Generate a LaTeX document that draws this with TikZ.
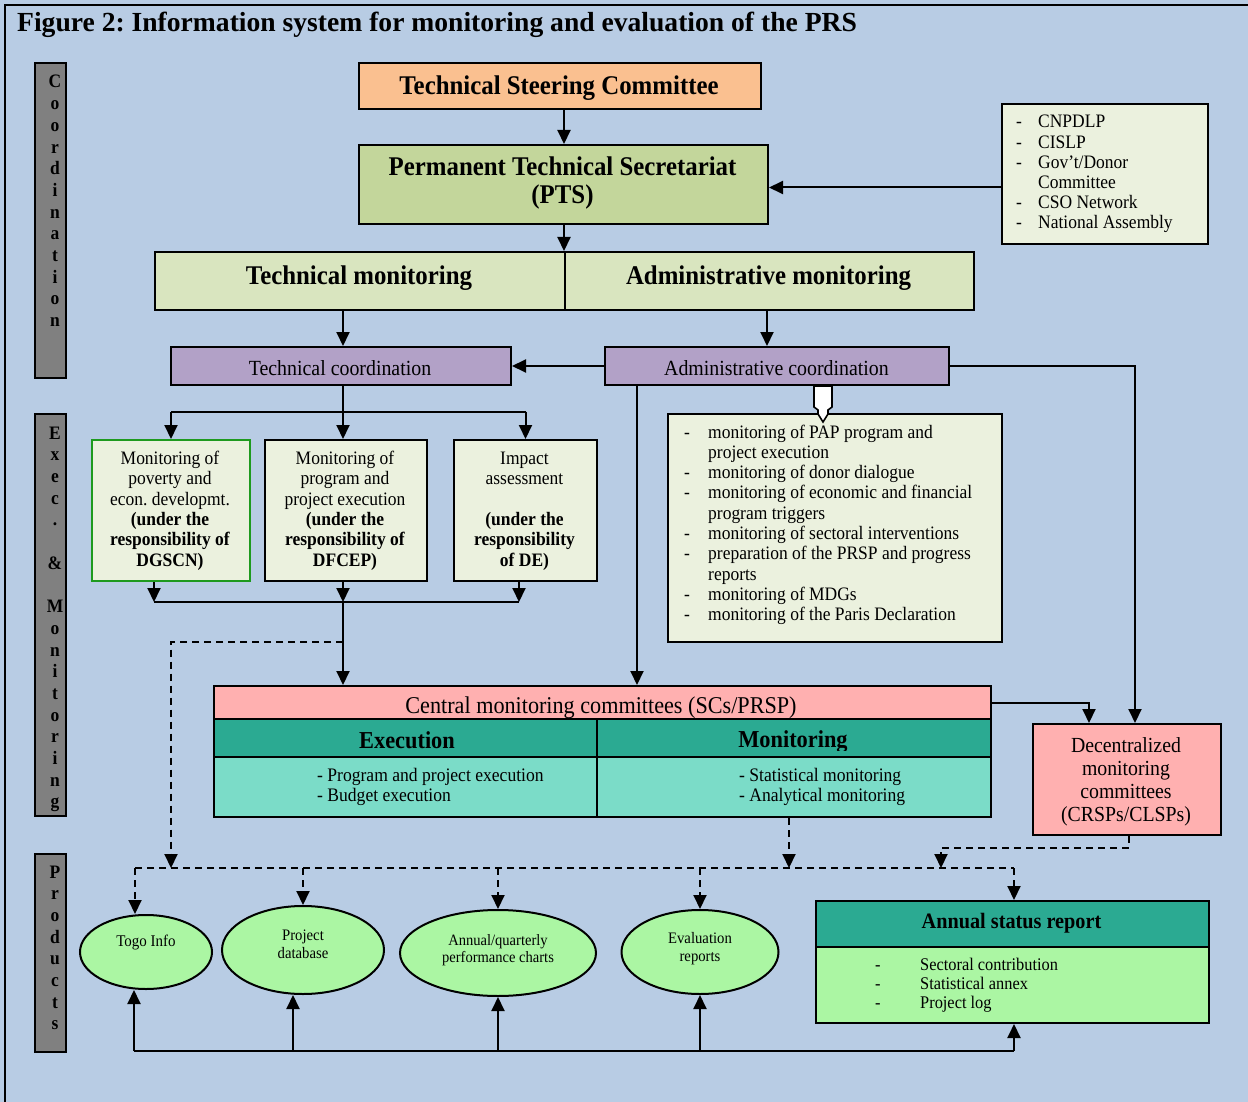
\documentclass[tikz,border=0pt]{standalone}
\usepackage{fontspec}
\setmainfont{Liberation Serif}
\newfontfamily\dfam[FakeStretch=0.92]{Liberation Serif}
\usetikzlibrary{arrows.meta,shapes.geometric,calc}
\definecolor{bgblue}{HTML}{B8CCE4}
\definecolor{orng}{HTML}{FAC090}
\definecolor{ptsgreen}{HTML}{C3D69B}
\definecolor{palegreen}{HTML}{D9E5BF}
\definecolor{listbg}{HTML}{EBF1DE}
\definecolor{purp}{HTML}{B2A1C7}
\definecolor{pinkc}{HTML}{FFB0B0}
\definecolor{tealh}{HTML}{2BAA92}
\definecolor{tealc}{HTML}{7BDCC8}
\definecolor{lgreen}{HTML}{ABF6A3}
\definecolor{sidegray}{HTML}{808080}
\definecolor{boxgreen}{HTML}{1E9A1E}
\newcommand\fnt[2]{\dfam\fontsize{#1}{#2}\selectfont}
\newcommand\dsh[1]{\makebox[#1][l]{-}}
\frenchspacing
\begin{document}
\begin{tikzpicture}[x=1pt,y=-1pt,
  bx/.style={draw=black,line width=2pt,inner sep=0pt,anchor=north west},
  tx/.style={inner sep=0pt,anchor=base},
  txl/.style={inner sep=0pt,anchor=base west},
  ln/.style={line width=2pt},
  arr/.style={line width=2pt,-{Triangle[length=14pt,width=13pt]}},
  dl/.style={line width=2pt,dash pattern=on 7pt off 5pt},
  darr/.style={dl,-{Triangle[length=14pt,width=13pt]}},
  ell/.style={ellipse,draw=black,line width=2pt,fill=lgreen,inner sep=0pt},
  sl/.style={inner sep=0pt,anchor=base,font=\fnt{19}{20}\bfseries},
  side/.style={bx,fill=sidegray,minimum width=31pt},
]
\useasboundingbox (0,0) rectangle (1248,1102);
\fill[bgblue] (0,0) rectangle (1248,1102);
\draw[line width=1.6pt] (5,1102) -- (5,5) -- (1248,5);

% title
\node[txl,font=\fontsize{27.6}{30}\selectfont\bfseries] (title) at (17,31.5) {Figure 2: Information system for monitoring and evaluation of the PRS};

% side bars
\node[side,minimum height=315pt] (sbA) at (34,62) {};
\node[side,minimum height=402pt] (sbB) at (34,413) {};
\node[side,minimum height=198pt] (sbC) at (34,853) {};
\begin{scope}
\clip ($(sbA.north west)+(1,1)$) rectangle ($(sbA.south east)+(-1,-1)$);
\foreach \c [count=\i from 0] in {C,o,o,r,d,i,n,a,t,i,o,n}
  \node[sl] (lA\i) at (55,{88+21.7*\i}) {\c};
\end{scope}
\begin{scope}
\clip ($(sbB.north west)+(1,1)$) rectangle ($(sbB.south east)+(-1,-1)$);
\foreach \c [count=\i from 0] in {E,x,e,c,.,{},\&,{},M,o,n,i,t,o,r,i,n,g}
  \node[sl] (lB\i) at (55,{439+21.7*\i}) {\c};
\end{scope}
\begin{scope}
\clip ($(sbC.north west)+(1,1)$) rectangle ($(sbC.south east)+(-1,-1)$);
\foreach \c [count=\i from 0] in {P,r,o,d,u,c,t,s}
  \node[sl] (lC\i) at (55,{878+21.7*\i}) {\c};
\end{scope}

% named x / y positions for connectors
\coordinate (xT) at (343,0);
\coordinate (xA2) at (767,0);
\coordinate (xD) at (1135,0);
\coordinate (xV) at (637,0);
\coordinate (xW) at (823,0);
\coordinate (x154) at (154,0);
\coordinate (x519) at (519,0);
\coordinate (xDc) at (1089,0);
\coordinate (xM) at (789,0);
\coordinate (xDb) at (1129,0);
\coordinate (xE) at (941,0);
\coordinate (xTg) at (135,0);
\coordinate (xTb) at (134,0);
\coordinate (xPb) at (293,0);
\coordinate (xAs) at (1014,0);
\coordinate (yrl) at (0,187.5);
\coordinate (yH1) at (0,411.5);
\coordinate (yH2) at (0,602);
\coordinate (yD1) at (0,641.5);
\coordinate (yD2) at (0,868);
\coordinate (yD3) at (0,847.5);
\coordinate (yB) at (0,1051);

% top boxes
\node[bx,fill=orng,minimum width=402pt,minimum height=46pt] (tsc) at (358,62) {};
\node[tx,font=\fnt{27}{29}\bfseries] (tsct) at (559,95) {Technical Steering Committee};
\node[bx,fill=ptsgreen,minimum width=409pt,minimum height=79pt] (pts) at (358,144) {};
\node[tx,font=\fnt{27}{28}\bfseries] (ptst) at (562.5,176) {\begin{tabular}[t]{@{}c@{}}Permanent Technical Secretariat\\(PTS)\end{tabular}};
\node[bx,fill=palegreen,minimum width=410pt,minimum height=58pt] (tm) at (154,251) {};
\node[tx,font=\fnt{27}{29}\bfseries] (tmt) at (359,284) {Technical monitoring};
\node[bx,fill=palegreen,minimum width=409pt,minimum height=58pt] (am) at (564,251) {};
\node[tx,font=\fnt{27}{29}\bfseries] (amt) at (768.5,284) {Administrative monitoring};

\node[bx,fill=listbg,minimum width=206pt,minimum height=140pt] (rl) at (1001,103) {};
\node[txl,font=\fnt{19}{20.2}] (rlt) at (1016,128) {\begin{tabular}[t]{@{}l@{}}\dsh{22pt}CNPDLP\\\dsh{22pt}CISLP\\\dsh{22pt}Gov’t/Donor\\\hspace*{22pt}Committee\\\dsh{22pt}CSO Network\\\dsh{22pt}National Assembly\end{tabular}};

% coordination
\node[bx,fill=purp,minimum width=340pt,minimum height=38pt] (tc) at (170,346) {};
\node[tx,font=\fnt{21.6}{23}] (tct) at (340,375) {Technical coordination};
\node[bx,fill=purp,minimum width=344pt,minimum height=38pt] (ac) at (604,346) {};
\node[tx,font=\fnt{21.6}{23}] (act) at (776.5,375) {Administrative coordination};

% three boxes
\node[bx,draw=boxgreen,fill=listbg,minimum width=158pt,minimum height=141pt] (b1) at (91,439) {};
\node[bx,fill=listbg,minimum width=162pt,minimum height=141pt] (b2) at (264,439) {};
\node[bx,fill=listbg,minimum width=143pt,minimum height=141pt] (b3) at (453,439) {};
\node[tx,font=\fnt{19}{20.3}] (b1t) at (170,464.5) {\begin{tabular}[t]{@{}c@{}}Monitoring of\\poverty and\\econ. developmt.\\\textbf{(under the}\\\textbf{responsibility of}\\\textbf{DGSCN)}\end{tabular}};
\node[tx,font=\fnt{19}{20.3}] (b2t) at (345,464.5) {\begin{tabular}[t]{@{}c@{}}Monitoring of\\program and\\project execution\\\textbf{(under the}\\\textbf{responsibility of}\\\textbf{DFCEP)}\end{tabular}};
\node[tx,font=\fnt{19}{20.3}] (b3t) at (524.5,464.5) {\begin{tabular}[t]{@{}c@{}}Impact\\assessment\\\mbox{}\\\textbf{(under the}\\\textbf{responsibility}\\\textbf{of DE)}\end{tabular}};

% admin list
\node[bx,fill=listbg,minimum width=334pt,minimum height=228pt] (lb) at (667,413) {};
\node[txl,font=\fnt{19}{20.3}] (lbt) at (684,438) {\begin{tabular}[t]{@{}l@{}}\dsh{24pt}monitoring of PAP program and\\\hspace*{24pt}project execution\\\dsh{24pt}monitoring of donor dialogue\\\dsh{24pt}monitoring of economic and financial\\\hspace*{24pt}program triggers\\\dsh{24pt}monitoring of sectoral interventions\\\dsh{24pt}preparation of the PRSP and progress\\\hspace*{24pt}reports\\\dsh{24pt}monitoring of MDGs\\\dsh{24pt}monitoring of the Paris Declaration\end{tabular}};

% central monitoring committees
\node[bx,fill=pinkc,minimum width=777pt,minimum height=33pt] (cm) at (213,685) {};
\node[tx,font=\fnt{24.1}{26}] (cmt) at (601,713.5) {Central monitoring committees (SCs/PRSP)};
\node[bx,fill=tealh,minimum width=383pt,minimum height=38pt] (exh) at (213,718) {};
\node[bx,fill=tealh,minimum width=394pt,minimum height=38pt] (moh) at (596,718) {};
\begin{scope}
\clip (exh.north west) rectangle (996,750);
\node[tx,font=\fnt{24.3}{26}\bfseries] (exht) at (407,748) {Execution};
\node[tx,font=\fnt{24.3}{26}\bfseries] (moht) at (793,747) {Monitoring};
\end{scope}
\node[bx,fill=tealc,minimum width=383pt,minimum height=60pt] (exc) at (213,756) {};
\node[bx,fill=tealc,minimum width=394pt,minimum height=60pt] (moc) at (596,756) {};
\node[txl,font=\fnt{19.1}{20}] (exct) at (317,781.5) {\begin{tabular}[t]{@{}l@{}}- Program and project execution\\- Budget execution\end{tabular}};
\node[txl,font=\fnt{19.1}{20}] (moct) at (739,781.5) {\begin{tabular}[t]{@{}l@{}}- Statistical monitoring\\- Analytical monitoring\end{tabular}};

% decentralized
\node[bx,fill=pinkc,minimum width=188pt,minimum height=111pt] (dc) at (1032,723) {};
\node[tx,font=\fnt{21.5}{23}] (dct) at (1126,752) {\begin{tabular}[t]{@{}c@{}}Decentralized\\monitoring\\committees\\(CRSPs/CLSPs)\end{tabular}};

% products
\node[ell,minimum width=132pt,minimum height=74pt] (togo) at (146,952) {};
\node[tx,font=\fnt{16.3}{18}] (togot) at (146,946.7) {Togo Info};
\node[ell,minimum width=162pt,minimum height=88pt] (pdb) at (303,950) {};
\node[tx,font=\fnt{16}{18}] (pdbt) at (303,940) {\begin{tabular}[t]{@{}c@{}}Project\\database\end{tabular}};
\node[ell,minimum width=196pt,minimum height=86pt] (apc) at (498,953) {};
\node[tx,font=\fnt{15.8}{17.5}] (apct) at (498,945) {\begin{tabular}[t]{@{}c@{}}Annual/quarterly\\performance charts\end{tabular}};
\node[ell,minimum width=157pt,minimum height=84pt] (evr) at (700,952) {};
\node[tx,font=\fnt{16}{18}] (evrt) at (700,943) {\begin{tabular}[t]{@{}c@{}}Evaluation\\reports\end{tabular}};

\node[bx,fill=tealh,minimum width=393pt,minimum height=46pt] (asr) at (815,900) {};
\node[tx,font=\fnt{22}{24}\bfseries] (asrt) at (1011.5,928.3) {Annual status report};
\node[bx,fill=lgreen,minimum width=393pt,minimum height=76pt] (asrb) at (815,946) {};
\node[txl,font=\fnt{17.8}{19}] (asrbt) at (875,970.5) {\begin{tabular}[t]{@{}l@{}}\dsh{45pt}Sectoral contribution\\\dsh{45pt}Statistical annex\\\dsh{45pt}Project log\end{tabular}};

% connectors
\draw[arr] (tsc.south -| am.west) -- (pts.north -| am.west);
\draw[arr] (pts.south -| am.west) -- (am.north west);
\draw[arr] (rl.west |- yrl) -- (pts.east |- yrl);
\draw[arr] (tm.south -| xT) -- (tc.north -| xT);
\draw[arr] (am.south -| xA2) -- (ac.north -| xA2);
\draw[arr] (ac.west) -- (tc.east);
\draw[arr] (ac.east) -| (xD |- dc.north);
\draw[arr] (ac.south -| xV) -- (cm.north -| xV);
\coordinate (wa) at (ac.south -| xW);
\draw[line width=1.6pt,fill=white] ($(wa)+(-9,0)$) -- ($(wa)+(9,0)$) -- ($(wa)+(9,21)$) -- ($(wa)+(5,24)$) -- ($(wa)+(5,28)$) -- ($(wa)+(0,36)$) -- ($(wa)+(-5,28)$) -- ($(wa)+(-5,24)$) -- ($(wa)+(-9,21)$) -- cycle;

\draw[ln] (tc.south -| xT) -- (xT |- yH1);
\draw[ln] (b1.north |- yH1) -- (b3.north |- yH1);
\draw[arr] (b1.north |- yH1) -- (b1.north);
\draw[arr] (xT |- yH1) -- (b2.north -| xT);
\draw[arr] (b3.north |- yH1) -- (b3.north);

\draw[arr] (b1.south -| x154) -- (x154 |- yH2);
\draw[arr] (b2.south -| xT) -- (xT |- yH2);
\draw[arr] (b3.south -| x519) -- (x519 |- yH2);
\draw[ln] (x154 |- yH2) -- (x519 |- yH2);
\draw[arr] (xT |- yH2) -- (cm.north -| xT);

\draw[darr] (xT |- yD1) -| (b1.north |- yD2);
\draw[arr] (cm.east) -| (xDc |- dc.north);
\draw[darr] (moc.south -| xM) -- (xM |- yD2);
\draw[darr] (dc.south -| xDb) -- (xDb |- yD3) -| (xE |- yD2);

\draw[dl] (xTg |- yD2) -- (xAs |- yD2);
\draw[darr] (xTg |- yD2) -- (togo.north -| xTg);
\draw[darr] (pdb.north |- yD2) -- (pdb.north);
\draw[darr] (apc.north |- yD2) -- (apc.north);
\draw[darr] (evr.north |- yD2) -- (evr.north);
\draw[darr] (xAs |- yD2) -- (asr.north -| xAs);

\draw[ln] (xTb |- yB) -- (xAs |- yB);
\draw[arr] (xTb |- yB) -- (togo.south -| xTb);
\draw[arr] (xPb |- yB) -- (pdb.south -| xPb);
\draw[arr] (apc.south |- yB) -- (apc.south);
\draw[arr] (evr.south |- yB) -- (evr.south);
\draw[arr] (xAs |- yB) -- (asrb.south -| xAs);
\end{tikzpicture}
\end{document}
